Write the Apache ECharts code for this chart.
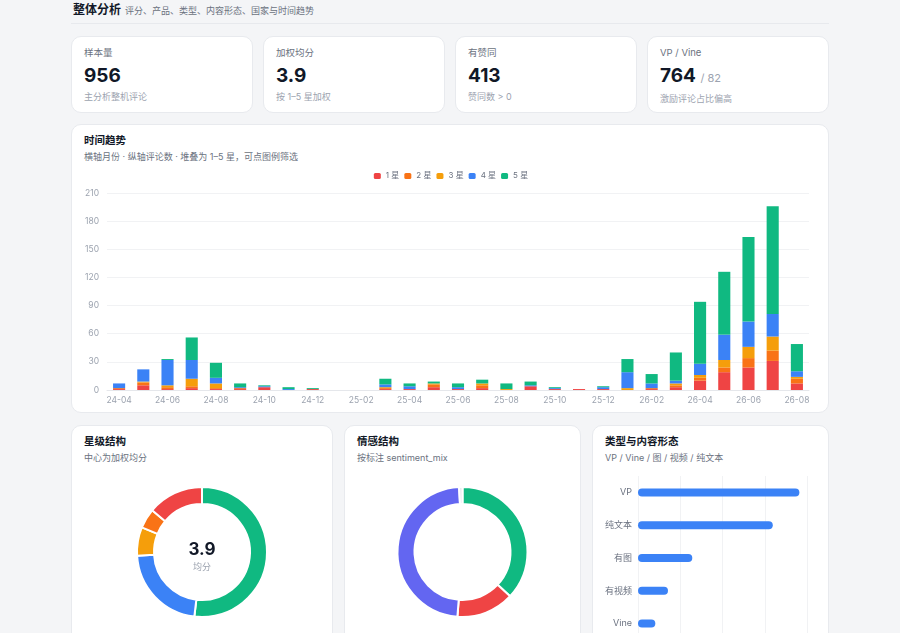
<!DOCTYPE html>
<html lang="zh">
<head>
    <meta charset="UTF-8">
    <title>整体分析</title>
    <script type="text/javascript" src="https://cdn.jsdelivr.net/npm/echarts@6/dist/echarts.min.js"></script>
    <style>
        * { box-sizing: border-box; margin: 0; padding: 0; }
        body {
            background: #f4f5f7;
            font-family: Inter, "Noto Sans CJK SC", sans-serif;
            color: #111827;
        }
        .wrap { width: 758px; margin: 0 auto; }
        .head {
            height: 24px; line-height: 16px;
            border-bottom: 1px solid #e7e9ed;
            padding-left: 2px;
        }
        .head b { font-size: 12px; font-weight: 700; }
        .head span { font-size: 9px; color: #6b7280; margin-left: 4px; }
        .kpis {
            margin-top: 12px;
            display: grid;
            grid-template-columns: repeat(4, 182px);
            column-gap: 10px;
        }
        .card {
            background: #fff;
            border: 1px solid #e8eaee;
            border-radius: 10px;
            position: relative;
        }
        .kpi { height: 77px; padding: 10px 0 0 12px; }
        .kpi .lab { font-size: 9.5px; line-height: 12px; color: #6b7280; }
        .kpi .val { font-size: 19px; line-height: 24px; font-weight: 700; margin-top: 5px; }
        .kpi .val small { font-size: 11px; font-weight: 400; color: #9ca3af; }
        .kpi .sub { font-size: 9px; line-height: 12px; color: #9ca3af; margin-top: 3px; }
        .trend { margin-top: 11px; height: 289px; }
        .ttl { font-size: 10.5px; line-height: 14px; font-weight: 700; padding: 9px 0 0 12px; }
        .sub2 { font-size: 9px; line-height: 13px; color: #6b7280; padding: 2px 0 0 12px; }
        #chart1 { position: absolute; left: 0; top: 41px; width: 758px; height: 248px; }
        .row3 {
            margin-top: 12px;
            display: grid;
            grid-template-columns: 262px 237px 237px;
            column-gap: 11px;
        }
        .row3 .card { height: 240px; }
        .pie { position: absolute; left: 0; top: 45px; width: 100%; height: 185px; }
    </style>
</head>
<body>
<div class="wrap">
    <div class="head"><b>整体分析</b><span>评分、产品、类型、内容形态、国家与时间趋势</span></div>

    <div class="kpis">
        <div class="card kpi"><div class="lab">样本量</div><div class="val">956</div><div class="sub">主分析整机评论</div></div>
        <div class="card kpi"><div class="lab">加权均分</div><div class="val">3.9</div><div class="sub">按 1–5 星加权</div></div>
        <div class="card kpi"><div class="lab">有赞同</div><div class="val">413</div><div class="sub">赞同数 &gt; 0</div></div>
        <div class="card kpi"><div class="lab">VP / Vine</div><div class="val">764 <small>/ 82</small></div><div class="sub">激励评论占比偏高</div></div>
    </div>

    <div class="card trend">
        <div class="ttl">时间趋势</div>
        <div class="sub2">横轴月份 · 纵轴评论数 · 堆叠为 1–5 星，可点图例筛选</div>
        <div id="chart1"></div>
    </div>

    <div class="row3">
        <div class="card">
            <div class="ttl">星级结构</div>
            <div class="sub2">中心为加权均分</div>
            <div id="chart2" class="pie"></div>
        </div>
        <div class="card">
            <div class="ttl">情感结构</div>
            <div class="sub2">按标注 sentiment_mix</div>
            <div id="chart3" class="pie"></div>
        </div>
        <div class="card">
            <div class="ttl">类型与内容形态</div>
            <div class="sub2">VP / Vine / 图 / 视频 / 纯文本</div>
            <div id="chart4" class="pie"></div>
        </div>
    </div>
</div>

<script type="text/javascript">
    // 月份
    var months = ['24-04', '24-05', '24-06', '24-07', '24-08', '24-09', '24-10', '24-11', '24-12',
        '25-01', '25-02', '25-03', '25-04', '25-05', '25-06', '25-07', '25-08', '25-09', '25-10',
        '25-11', '25-12', '26-01', '26-02', '26-03', '26-04', '26-05', '26-06', '26-07', '26-08'];
    // 每月各星级评论数
    var star1 = [1, 5, 1, 2, 1, 1, 3, 0, 1, 0, 0, 1, 1, 3, 1, 2, 0, 4, 1, 1, 1, 0, 1, 3, 10, 19, 24, 31, 7];
    var star2 = [1, 3, 2, 2, 1, 1, 0, 0, 0, 0, 0, 1, 0, 3, 0, 3, 0, 0, 0, 0, 0, 0, 1, 2, 3, 5, 10, 11, 5];
    var star3 = [0, 1, 2, 8, 5, 0, 0, 0, 0, 0, 0, 1, 0, 1, 0, 2, 1, 0, 0, 0, 0, 2, 0, 2, 3, 8, 12, 15, 2];
    var star4 = [5, 13, 27, 20, 6, 1, 1, 1, 0, 0, 0, 3, 3, 0, 2, 0, 0, 1, 1, 0, 2, 17, 5, 3, 12, 27, 27, 24, 6];
    var star5 = [0, 0, 1, 24, 16, 4, 1, 2, 1, 0, 0, 6, 3, 2, 4, 4, 6, 4, 1, 0, 1, 14, 10, 30, 66, 67, 90, 115, 29];

    // 星级结构
    var starNames = ['5 星', '4 星', '3 星', '2 星', '1 星'];
    var starCounts = [496, 212, 68, 47, 133];
    var avgScore = '3.9';

    // 情感结构
    var sentNames = ['正面', '负面', '中性', '混合'];
    var sentCounts = [353, 137, 458, 8];

    // 类型与内容形态
    var typeNames = ['VP', '纯文本', '有图', '有视频', 'Vine'];
    var typeCounts = [764, 638, 257, 142, 82];

    var FONT = 'Inter, "Noto Sans CJK SC", sans-serif';
    var C1 = '#ef4444', C2 = '#f97316', C3 = '#f59e0b', C4 = '#3b82f6', C5 = '#10b981';

    function barSeries(name, data, color) {
        return {
            name: name,
            type: 'bar',
            stack: 'star',
            data: data,
            barWidth: '50%',
            itemStyle: {color: color},
            emphasis: {focus: 'series'}
        };
    }

    var chart1 = echarts.init(document.getElementById('chart1'));
    chart1.setOption({
        animation: false,
        textStyle: {fontFamily: FONT},
        legend: {
            top: 1,
            icon: 'roundRect',
            itemWidth: 7,
            itemHeight: 6,
            itemGap: 5,
            textStyle: {fontSize: 8, color: '#6b7280'},
            data: ['1 星', '2 星', '3 星', '4 星', '5 星']
        },
        grid: {left: 35, right: 21, top: 27, bottom: 24},
        xAxis: {
            type: 'category',
            data: months,
            axisTick: {show: false},
            axisLine: {lineStyle: {color: '#e5e7eb'}},
            axisLabel: {interval: 1, fontSize: 8.5, color: '#9ca3af', margin: 6}
        },
        yAxis: {
            type: 'value',
            min: 0,
            max: 210,
            interval: 30,
            axisLabel: {fontSize: 8.5, color: '#9ca3af', margin: 8},
            splitLine: {lineStyle: {color: '#f1f2f4'}}
        },
        series: [
            barSeries('1 星', star1, C1),
            barSeries('2 星', star2, C2),
            barSeries('3 星', star3, C3),
            barSeries('4 星', star4, C4),
            barSeries('5 星', star5, C5)
        ]
    });

    var chart2 = echarts.init(document.getElementById('chart2'));
    chart2.setOption({
        animation: false,
        textStyle: {fontFamily: FONT},
        color: [C5, C4, C3, C2, C1],
        graphic: [
            {type: 'text', left: 'center', top: 70, style: {text: avgScore, font: '700 17px ' + FONT, fill: '#111827'}},
            {type: 'text', left: 'center', top: 92, style: {text: '均分', font: '9px ' + FONT, fill: '#9ca3af'}}
        ],
        series: [{
            type: 'pie',
            center: ['50%', 81],
            radius: [48, 65],
            label: {show: false},
            labelLine: {show: false},
            emphasis: {scale: false},
            itemStyle: {borderColor: '#fff', borderWidth: 2},
            data: starNames.map(function (n, i) {
                return {name: n, value: starCounts[i]};
            })
        }]
    });

    var chart3 = echarts.init(document.getElementById('chart3'));
    chart3.setOption({
        animation: false,
        textStyle: {fontFamily: FONT},
        color: [C5, C1, '#6366f1', '#e5e7eb'],
        series: [{
            type: 'pie',
            center: ['50%', 81],
            radius: [48, 65],
            label: {show: false},
            labelLine: {show: false},
            emphasis: {scale: false},
            itemStyle: {borderColor: '#fff', borderWidth: 2},
            data: sentNames.map(function (n, i) {
                return {name: n, value: sentCounts[i]};
            })
        }]
    });

    var chart4 = echarts.init(document.getElementById('chart4'));
    chart4.setOption({
        animation: false,
        textStyle: {fontFamily: FONT},
        grid: {left: 45, right: 21, top: 5, height: 164},
        xAxis: {
            type: 'value',
            min: 0,
            max: 800,
            interval: 200,
            axisLabel: {show: false},
            splitLine: {lineStyle: {color: '#f1f2f4'}}
        },
        yAxis: {
            type: 'category',
            inverse: true,
            data: typeNames,
            axisTick: {show: false},
            axisLine: {show: false},
            axisLabel: {fontSize: 9, color: '#6b7280', margin: 6}
        },
        series: [{
            type: 'bar',
            data: typeCounts,
            barWidth: 8,
            itemStyle: {color: C4, borderRadius: 4}
        }]
    });
</script>
</body>
</html>
